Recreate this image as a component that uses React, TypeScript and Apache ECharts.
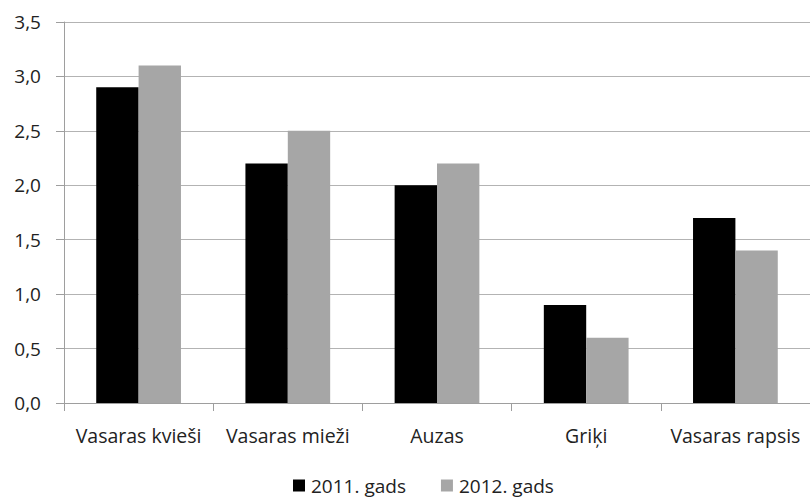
import React, { useEffect, useRef } from "react";
import * as echarts from "echarts";

const categories = ["Vasaras kvieši", "Vasaras mieži", "Auzas", "Griķi", "Vasaras rapsis"];
const series2011 = [2.9, 2.2, 2.0, 0.9, 1.7];
const series2012 = [3.1, 2.5, 2.2, 0.6, 1.4];
const seriesNames = ["2011. gads", "2012. gads"];

const FONT = "'Open Sans', 'Noto Sans', sans-serif";

export default function App() {
  const ref = useRef<HTMLDivElement>(null);
  useEffect(() => {
    if (!ref.current) return;
    const chart = echarts.init(ref.current, undefined, { renderer: "svg" });
    chart.setOption({
      animation: false,
      backgroundColor: "#ffffff",
      textStyle: { fontFamily: FONT },
      grid: { left: 64, top: 22, width: 756, height: 381, containLabel: false },
      legend: {
        data: seriesNames,
        left: 293,
        top: 476,
        padding: 0,
        itemWidth: 12,
        itemHeight: 12,
        itemGap: 35,
        icon: "rect",
        textStyle: { fontFamily: FONT, fontSize: 19, lineHeight: 19, color: "#222", padding: [0, 0, 0, 1] },
      },
      xAxis: {
        type: "category",
        data: categories,
        axisLine: { lineStyle: { color: "#9e9e9e", width: 1 } },
        axisTick: { show: true, length: 8, lineStyle: { color: "#9e9e9e" } },
        axisLabel: { fontFamily: FONT, fontSize: 19.5, color: "#222", margin: 22, interval: 0 },
      },
      yAxis: {
        type: "value",
        min: 0,
        max: 3.5,
        interval: 0.5,
        axisLine: { show: true, lineStyle: { color: "#9e9e9e", width: 1 } },
        axisTick: { show: true, length: 8, lineStyle: { color: "#9e9e9e" } },
        splitLine: { lineStyle: { color: "#b3b3b3", width: 1 } },
        axisLabel: {
          fontFamily: FONT,
          fontSize: 19,
          color: "#222",
          margin: 23,
          formatter: (v: number) => v.toFixed(1).replace(".", ","),
        },
      },
      series: [
        {
          name: seriesNames[0],
          type: "bar",
          data: series2011,
          barWidth: "28.4%",
          barGap: "0%",
          itemStyle: { color: "#000000" },
        },
        {
          name: seriesNames[1],
          type: "bar",
          data: series2012,
          barWidth: "28.4%",
          barGap: "0%",
          itemStyle: { color: "#a6a6a6" },
        },
      ],
    });
    return () => chart.dispose();
  }, []);
  return (
    <div
      ref={ref}
      style={{ position: "fixed", left: 0, top: 0, width: 810, height: 497 }}
    />
  );
}
